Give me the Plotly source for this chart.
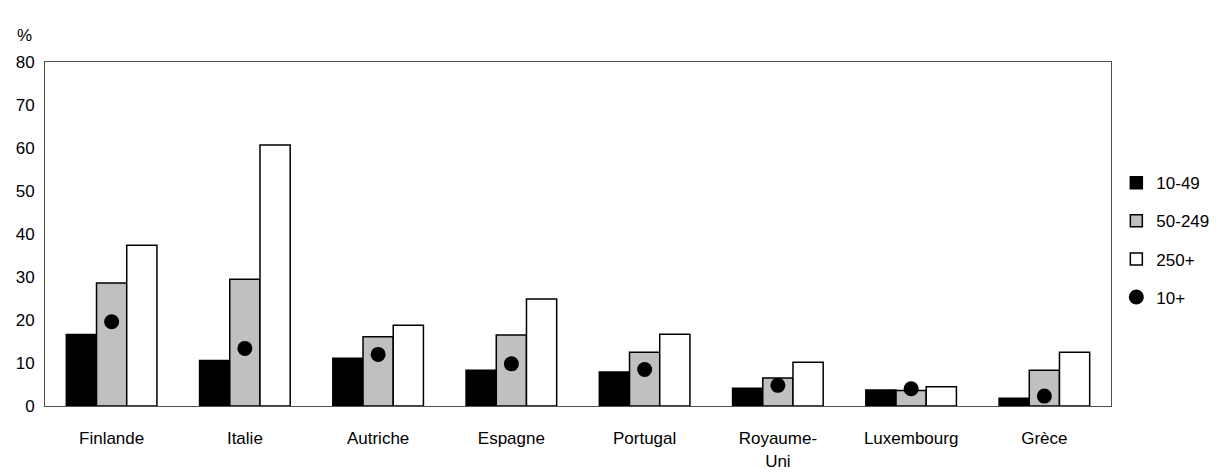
import plotly.graph_objects as go

countries = ["Finlande", "Italie", "Autriche", "Espagne", "Portugal",
             "Royaume-<br>Uni", "Luxembourg", "Grèce"]
small_10_49 = [16.6, 10.6, 11.1, 8.3, 7.9, 4.1, 3.7, 1.8]
medium_50_249 = [28.6, 29.5, 16.1, 16.5, 12.5, 6.5, 3.6, 8.3]
large_250 = [37.4, 60.7, 18.8, 24.9, 16.7, 10.2, 4.5, 12.5]
all_10_plus = [19.6, 13.4, 12.0, 9.8, 8.5, 4.8, 4.0, 2.3]

font = "Liberation Sans, Arial, sans-serif"
edge = dict(color="black", width=1.5)

fig = go.Figure()
fig.add_trace(go.Bar(x=countries, y=small_10_49, name="10-49", legendgroup="a",
                     marker=dict(color="black", line=edge)))
fig.add_trace(go.Bar(x=countries, y=medium_50_249, name="50-249", legendgroup="b",
                     marker=dict(color="#c0c0c0", line=edge)))
fig.add_trace(go.Bar(x=countries, y=large_250, name="250+", legendgroup="c",
                     marker=dict(color="white", line=edge)))
fig.add_trace(go.Scatter(x=countries, y=all_10_plus, name="10+", legendgroup="d",
                         mode="markers",
                         marker=dict(color="black", size=15, symbol="circle")))

fig.update_layout(
    width=1219, height=473,
    margin=dict(l=45, r=108, t=62, b=67, autoexpand=False),
    paper_bgcolor="white", plot_bgcolor="white",
    barmode="group", bargap=0.32, bargroupgap=0,
    font=dict(family=font, size=17, color="black"),
    showlegend=True,
    legend=dict(x=1.005, y=0.7, xanchor="left", yanchor="top",
                bgcolor="rgba(0,0,0,0)",
                traceorder="grouped", tracegroupgap=13,
                font=dict(size=17), itemwidth=30),
    annotations=[dict(text="%", x=0, y=1.0, xref="paper", yref="paper",
                      xshift=-30, yshift=27, showarrow=False,
                      xanchor="left", yanchor="middle", font=dict(size=17))],
)
fig.update_xaxes(showline=True, linecolor="#505050", linewidth=1, mirror=True,
                 showgrid=False, ticks="", ticklabelstandoff=17, automargin=False)
fig.update_yaxes(range=[0, 80], dtick=10, showline=True, linecolor="#505050",
                 linewidth=1, mirror=True, showgrid=False, zeroline=False,
                 ticks="", ticklabelstandoff=6, automargin=False)

fig.write_html("out.html")
